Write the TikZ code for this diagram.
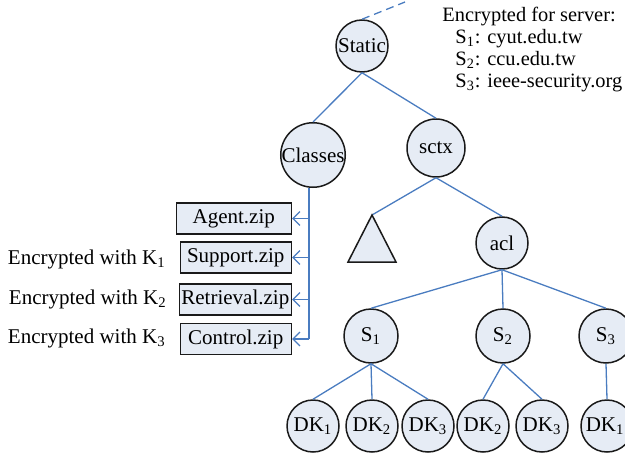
\documentclass[tikz,border=0pt]{standalone}
\usepackage{fontspec}
\setmainfont{Liberation Serif}
\usetikzlibrary{
  arrows.meta,
  positioning
}
\definecolor{ink}{HTML}{1A1A1A}
\definecolor{leaf}{HTML}{E6ECF5}
\definecolor{wire}{HTML}{4A7CC0}
\tikzset{
  folder/.style={
    circle,
    draw=ink,
    fill=leaf,
    line width=0.75pt,
    inner sep=0pt,
    minimum size=26pt
  },
  zipfile/.style={
    draw=ink,
    fill=leaf,
    line width=0.75pt,
    minimum width=55.5pt,
    minimum height=15.5pt,
    inner sep=1pt
  },
  link/.style={
    draw=wire,
    line width=0.65pt
  },
  fetch/.style={
    link,
    -{Straight Barb[length=3.5pt,width=7pt]}
  },
  note/.style={
    inner sep=0pt,
    align=left
  }
}

\begin{document}
\begin{tikzpicture}[x=0.5pt,y=-0.5pt,font=\fontsize{10.5}{11}\selectfont]
  \useasboundingbox (0,0) rectangle (625,454);
  % upper part of the tree
  \node[folder] (static) at (362,46) {Static};
  \node[folder,minimum size=31pt] (classes) at (313,155) {Classes};
  \node[folder,minimum size=29pt] (sctx) at (436,148) {sctx};
  \node[folder] (acl) at (502,243) {acl};
  \coordinate (up) at (405,2);
  \coordinate (tri) at (372,215);
  \draw[link,dash pattern=on 4pt off 2.5pt] (static.north) -- (up);
  \draw[link] (static.south) -- (classes.north);
  \draw[link] (static.south) -- (sctx.north);
  \draw[link] (sctx.south) -- (tri);
  \draw[link] (sctx.south) -- (acl.north);
  \draw[draw=ink,fill=leaf,line width=0.75pt]
    (tri) -- ++(-24,47) -- ++(48,0) -- cycle;

  % servers and their keys
  \foreach \s/\x in {1/371,2/503,3/606}{
    \node[folder,minimum size=27pt] (s\s) at (\x,336) {S\textsubscript{\s}};
    \draw[link] (acl.south) -- (s\s.north);
  }
  \foreach \p/\x/\k [count=\i] in {
    s1/313/1,
    s1/372/2,
    s1/428/3,
    s2/483/2,
    s2/542/3,
    s3/607/1
  }{
    \node[folder] (dk\i) at (\x,426) {DK\textsubscript{\k}};
    \draw[link] (\p.south) -- (dk\i.north);
  }

  % zip files under Classes
  \node[zipfile,anchor=east,minimum width=57.5pt] (agent) at (292,218.5) {Agent.zip};
  \node[zipfile,anchor=east] (support) at (292,257.5) {Support.zip};
  \node[zipfile,anchor=east] (retrieval) at (292,299.5) {Retrieval.zip};
  \node[zipfile,anchor=east] (control) at (292,339) {Control.zip};
  \coordinate (trunk) at (309,0);
  \draw[link] (trunk |- classes.south) -- (trunk |- control);
  \foreach \f in {agent,support,retrieval,control}
    \draw[fetch] (trunk |- \f) -- (\f.east);

  \node[note,anchor=base east] (k1) at (166,264) {Encrypted with K\textsubscript{1}};
  \node[note,anchor=base east] (k2) at (167,304) {Encrypted with K\textsubscript{2}};
  \node[note,anchor=base east] (k3) at (166,343) {Encrypted with K\textsubscript{3}};

  \node[note,anchor=north west,font=\fontsize{10.2}{11}\selectfont] (servers) at (442,7) {%
    Encrypted for server:\\
    \hspace*{6.5pt}S\textsubscript{1}: cyut.edu.tw\\
    \hspace*{6.5pt}S\textsubscript{2}: ccu.edu.tw\\
    \hspace*{6.5pt}S\textsubscript{3}: ieee-security.org};
\end{tikzpicture}
\end{document}
